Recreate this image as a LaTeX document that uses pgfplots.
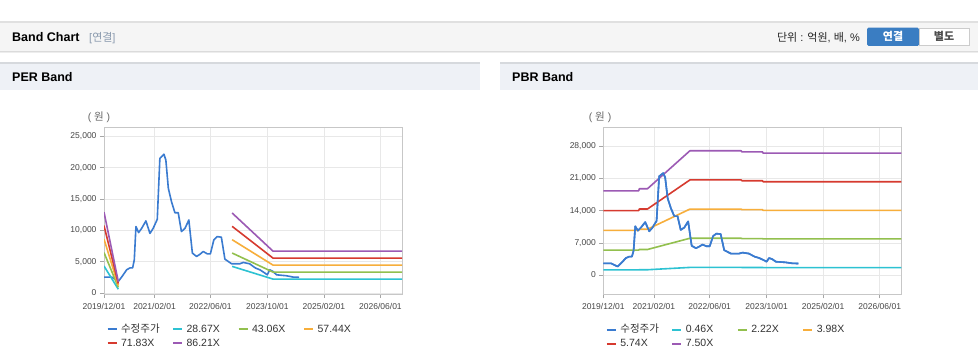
\documentclass[border=0pt]{standalone}
\usepackage{pgfplots}
\pgfplotsset{compat=1.18}
\usepackage{fontspec}
\setmainfont{Liberation Sans}
\newfontfamily\kr{Noto Sans CJK KR}
\definecolor{cblue}{HTML}{3A7BD0}
\definecolor{cteal}{HTML}{2DC2D2}
\definecolor{cgreen}{HTML}{92C04E}
\definecolor{corange}{HTML}{F7AE3B}
\definecolor{cred}{HTML}{D63A2F}
\definecolor{cpurple}{HTML}{9C5AB4}
\definecolor{hdrbg}{HTML}{F5F5F5}
\definecolor{panelbg}{HTML}{EEF1F6}
\definecolor{btnblue}{HTML}{3A7DC2}
\definecolor{bracket}{HTML}{8A9AAE}
\newcommand\lt[1]{\makebox[51pt][l]{#1}}
\pgfplotsset{
  bandax/.style={
    scale only axis, width=298pt, height=167pt, xmin=0, xmax=84.3,
    scaled y ticks=false,
    axis line style={draw=black!22},
    grid=major, grid style={draw=black!9, line width=0.6pt},
    tick pos=left, tick align=outside, major tick length=4pt,
    tick style={draw=black!35, line width=0.6pt},
    xtick={0,14.3,30.1,46.2,62.2,78.2},
    xticklabels={2019/12/01,2021/02/01,2022/06/01,2023/10/01,2025/02/01,2026/06/01},
    tick label style={font=\fontsize{8.5}{10}\selectfont, text=black!72},
    xticklabel style={yshift=-1.5pt},
    every axis plot/.append style={line width=1.6pt, line join=round},
    unbounded coords=jump,
    legend columns=4,
    legend cell align=left,
    legend style={draw=none, fill=none, at={(0.008,-0.18)}, anchor=north west,
      inner sep=0pt, font=\fontsize{10.5}{12}\selectfont, text=black!80,
      /tikz/every odd column/.append style={column sep=3.5pt},
      /tikz/every even column/.append style={column sep=0pt},
      row sep=4pt, nodes={inner sep=0pt, text height=8pt, text depth=2pt}},
    legend image code/.code={\draw[##1, line width=2pt] (0pt,0pt) -- (9pt,0pt);},
  }
}
\pgfplotstableread{
m v
0 2540
2.17 2540
4.05 1850
5.2 2700
6.4 3700
7.34 4000
8.1 4000
8.57 5300
9.04 10600
9.79 9640
10.64 10300
11.86 11500
13.0 9500
13.9 10300
15.07 11760
15.8 21450
16.95 22140
17.5 21200
18.2 16700
19.1 14560
20.06 12800
21.0 12800
21.9 9800
22.9 10300
24.0 11650
25.0 6360
26.2 5830
27.2 6200
28.06 6620
29.2 6250
30.1 6250
31.07 8470
32.0 9000
33.2 8900
34.2 5400
36.1 4660
38.4 4660
39.4 4870
41.2 4660
42.2 4240
42.9 3970
44.1 3700
45.5 3180
46.2 2900
46.9 3700
47.8 3440
48.8 2900
51.6 2750
53.5 2540
55.2 2500
}\price
\begin{document}
\begin{tikzpicture}[x=1pt,y=1pt]
\path[use as bounding box, fill=white] (0,0) rectangle (978,361);
% top header bar
\fill[black!12] (0,338) rectangle (978,340);
\fill[hdrbg] (0,310) rectangle (978,338);
\fill[black!14] (0,309) rectangle (978,310);
\fill[black!7] (0,307.5) rectangle (978,309);
\node[anchor=base west, inner sep=0pt, font=\bfseries\fontsize{12.5}{14}\selectfont] at (12,319.5) {Band Chart};
\node[anchor=base west, inner sep=0pt, text=bracket, font=\fontsize{11}{13}\selectfont] at (89,319.5) {[{\kr 연결}]};
\node[anchor=base east, inner sep=0pt, text=black!85, font=\fontsize{11}{13}\selectfont] at (860,319.5) {{\kr 단위} : {\kr 억원}, {\kr 배}, \%};
\fill[btnblue, rounded corners=1.5pt] (867,315) rectangle (919,333.3);
\node[text=white, font=\kr\bfseries\fontsize{11}{13}\selectfont, inner sep=0pt] at (893,324.2) {연결};
\draw[black!20, fill=white] (919,315.5) rectangle (969,332.8);
\node[text=black!70, font=\kr\bfseries\fontsize{11}{13}\selectfont, inner sep=0pt] at (944,324.2) {별도};
% panel headers
\fill[black!10!panelbg] (0,297) rectangle (480,299);
\fill[panelbg] (0,271) rectangle (480,297);
\fill[black!10!panelbg] (500,297) rectangle (978,299);
\fill[panelbg] (500,271) rectangle (978,297);
\node[anchor=base west, inner sep=0pt, font=\bfseries\fontsize{12.5}{14}\selectfont] at (12,279) {PER Band};
\node[anchor=base west, inner sep=0pt, font=\bfseries\fontsize{12.5}{14}\selectfont] at (512,279) {PBR Band};
\node[text=black!60, font=\fontsize{10.5}{12}\selectfont] at (99,244) {( {\kr 원} )};
\node[text=black!60, font=\fontsize{10.5}{12}\selectfont] at (600,244) {( {\kr 원} )};
% PER chart
\begin{axis}[bandax, at={(104pt,67pt)}, anchor=south west,
  ymin=-160, ymax=26480,
  ytick={0,5000,10000,15000,20000,25000},
  yticklabels={0,{5,000},{10,000},{15,000},{20,000},{25,000}}]
\addplot[cblue] table[x=m,y=v] {\price};
\addlegendentry{\lt{\kr 수정주가}}
\addplot[cteal] coordinates {(0,4300) (4.05,600) (20,nan) (36.25,4243) (47.8,2222) (84.3,2222)};
\addlegendentry{\lt{28.67X}}
\addplot[cgreen] coordinates {(0,6450) (4.05,900) (20,nan) (36.25,6373) (47.8,3337) (84.3,3337)};
\addlegendentry{\lt{43.06X}}
\addplot[corange] coordinates {(0,8600) (4.05,1200) (20,nan) (36.25,8501) (47.8,4452) (84.3,4452)};
\addlegendentry{\lt{57.44X}}
\addplot[cred] coordinates {(0,10750) (4.05,1500) (20,nan) (36.25,10631) (47.8,5567) (84.3,5567)};
\addlegendentry{\lt{71.83X}}
\addplot[cpurple] coordinates {(0,12900) (4.05,1800) (20,nan) (36.25,12759) (47.8,6681) (84.3,6681)};
\addlegendentry{\lt{86.21X}}
\end{axis}
% PBR chart
\begin{axis}[bandax, at={(603.3pt,66.7pt)}, anchor=south west,
  ymin=-4185, ymax=32100,
  ytick={0,7000,14000,21000,28000},
  yticklabels={0,{7,000},{14,000},{21,000},{28,000}}]
\addplot[cblue] table[x=m,y=v] {\price};
\addlegendentry{\lt{\kr 수정주가}}
\addplot[cteal] coordinates {(0,1122) (10,1122) (10.2,1150) (12.5,1150) (24.5,1656) (39,1656) (39.2,1642) (45,1642) (45.2,1625) (84.3,1625)};
\addlegendentry{\lt{0.46X}}
\addplot[cgreen] coordinates {(0,5417) (10,5417) (10.2,5550) (12.5,5550) (24.5,7992) (39,7992) (39.2,7925) (45,7925) (45.2,7843) (84.3,7843)};
\addlegendentry{\lt{2.22X}}
\addplot[corange] coordinates {(0,9711) (10,9711) (10.2,9950) (12.5,9950) (24.5,14328) (39,14328) (39.2,14209) (45,14209) (45.2,14061) (84.3,14061)};
\addlegendentry{\lt{3.98X}}
\addplot[cred] coordinates {(0,14006) (10,14006) (10.2,14350) (12.5,14350) (24.5,20664) (39,20664) (39.2,20492) (45,20492) (45.2,20279) (84.3,20279)};
\addlegendentry{\lt{5.74X}}
\addplot[cpurple] coordinates {(0,18300) (10,18300) (10.2,18750) (12.5,18750) (24.5,27000) (39,27000) (39.2,26775) (45,26775) (45.2,26498) (84.3,26498)};
\addlegendentry{\lt{7.50X}}
\addplot[cblue, forget plot] table[x=m,y=v] {\price};
\end{axis}
\end{tikzpicture}
\end{document}
